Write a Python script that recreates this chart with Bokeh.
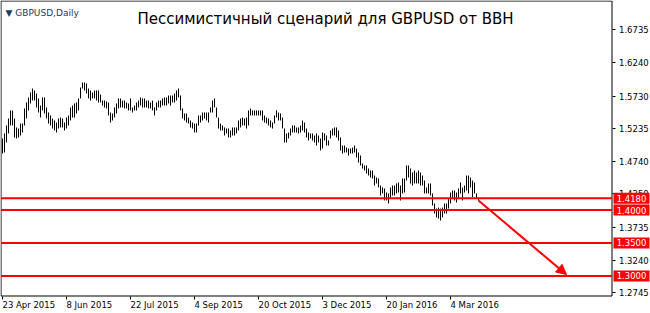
from bokeh.plotting import figure
from bokeh.models import Range1d, FixedTicker, Label, Arrow, NormalHead, NumeralTickFormatter, ColumnDataSource
from bokeh.core.properties import value
from bokeh.embed import file_html
from bokeh.resources import INLINE

# ---------------- data ----------------
bar_high = [
    1.5086, 1.5162, 1.5283, 1.5389, 1.5511, 1.5511, 1.5389, 1.5253, 1.5237, 1.5313,
    1.5313, 1.5541, 1.5632, 1.5708, 1.5784, 1.5844, 1.5814, 1.5768, 1.5693, 1.5586,
    1.5708, 1.5708, 1.5556, 1.5480, 1.5435, 1.5389, 1.5359, 1.5328, 1.5389, 1.5404,
    1.5389, 1.5328, 1.5404, 1.5435, 1.5556, 1.5586, 1.5617, 1.5632, 1.5693, 1.5859,
    1.5935, 1.5935, 1.5920, 1.5844, 1.5814, 1.5784, 1.5814, 1.5814, 1.5814, 1.5753,
    1.5662, 1.5662, 1.5647, 1.5632, 1.5480, 1.5465, 1.5556, 1.5617, 1.5693, 1.5693,
    1.5662, 1.5662, 1.5632, 1.5617, 1.5693, 1.5556, 1.5586, 1.5632, 1.5662, 1.5708,
    1.5693, 1.5693, 1.5662, 1.5662, 1.5632, 1.5662, 1.5556, 1.5632, 1.5662, 1.5662,
    1.5693, 1.5708, 1.5708, 1.5738, 1.5738, 1.5738, 1.5768, 1.5814, 1.5844, 1.5738,
    1.5541, 1.5465, 1.5465, 1.5404, 1.5359, 1.5328, 1.5313, 1.5313, 1.5435, 1.5435,
    1.5480, 1.5480, 1.5480, 1.5480, 1.5556, 1.5662, 1.5693, 1.5556, 1.5404, 1.5313,
    1.5283, 1.5253, 1.5237, 1.5237, 1.5207, 1.5253, 1.5253, 1.5253, 1.5359, 1.5389,
    1.5404, 1.5389, 1.5404, 1.5511, 1.5541, 1.5511, 1.5511, 1.5511, 1.5511, 1.5511,
    1.5511, 1.5435, 1.5404, 1.5389, 1.5359, 1.5328, 1.5435, 1.5511, 1.5480, 1.5465,
    1.5404, 1.5237, 1.5162, 1.5177, 1.5237, 1.5283, 1.5283, 1.5253, 1.5253, 1.5283,
    1.5359, 1.5328, 1.5237, 1.5177, 1.5162, 1.5162, 1.5131, 1.5162, 1.5131, 1.5086,
    1.5177, 1.5162, 1.5131, 1.5055, 1.5207, 1.5237, 1.5253, 1.5253, 1.5207, 1.5101,
    1.4979, 1.4979, 1.4949, 1.4934, 1.4934, 1.4949, 1.4979, 1.4934, 1.4873, 1.4828,
    1.4706, 1.4676, 1.4676, 1.4630, 1.4600, 1.4600, 1.4524, 1.4494, 1.4479, 1.4372,
    1.4342, 1.4327, 1.4266, 1.4251, 1.4342, 1.4372, 1.4372, 1.4403, 1.4418, 1.4372,
    1.4479, 1.4479, 1.4676, 1.4676, 1.4630, 1.4570, 1.4600, 1.4570, 1.4600, 1.4570,
    1.4524, 1.4448, 1.4342, 1.4403, 1.4403, 1.4251, 1.4099, 1.4023, 1.4038, 1.4023,
    1.4038, 1.4099, 1.4099, 1.4175, 1.4266, 1.4296, 1.4296, 1.4266, 1.4327, 1.4418,
    1.4342, 1.4372, 1.4524, 1.4524, 1.4494, 1.4448, 1.4418, 1.4251, 1.4190,
]
bar_low = [
    1.4858, 1.4873, 1.5025, 1.5162, 1.5283, 1.5283, 1.5101, 1.5086, 1.5101, 1.5131,
    1.5177, 1.5283, 1.5389, 1.5511, 1.5617, 1.5662, 1.5662, 1.5556, 1.5480, 1.5404,
    1.5511, 1.5465, 1.5389, 1.5313, 1.5283, 1.5237, 1.5207, 1.5177, 1.5237, 1.5253,
    1.5253, 1.5207, 1.5237, 1.5283, 1.5359, 1.5404, 1.5404, 1.5465, 1.5511, 1.5693,
    1.5844, 1.5814, 1.5768, 1.5693, 1.5662, 1.5693, 1.5693, 1.5662, 1.5632, 1.5632,
    1.5586, 1.5556, 1.5541, 1.5435, 1.5328, 1.5359, 1.5404, 1.5465, 1.5541, 1.5556,
    1.5556, 1.5541, 1.5541, 1.5511, 1.5511, 1.5480, 1.5511, 1.5511, 1.5556, 1.5586,
    1.5556, 1.5556, 1.5556, 1.5541, 1.5541, 1.5511, 1.5435, 1.5511, 1.5556, 1.5556,
    1.5586, 1.5586, 1.5586, 1.5617, 1.5586, 1.5632, 1.5632, 1.5662, 1.5708, 1.5511,
    1.5389, 1.5359, 1.5328, 1.5313, 1.5253, 1.5237, 1.5177, 1.5177, 1.5283, 1.5328,
    1.5359, 1.5389, 1.5359, 1.5328, 1.5480, 1.5480, 1.5556, 1.5404, 1.5237, 1.5207,
    1.5207, 1.5131, 1.5162, 1.5101, 1.5101, 1.5131, 1.5131, 1.5162, 1.5207, 1.5253,
    1.5283, 1.5283, 1.5237, 1.5283, 1.5435, 1.5435, 1.5435, 1.5435, 1.5435, 1.5435,
    1.5359, 1.5328, 1.5313, 1.5283, 1.5253, 1.5237, 1.5313, 1.5404, 1.5359, 1.5359,
    1.5237, 1.5025, 1.5025, 1.5086, 1.5131, 1.5177, 1.5177, 1.5177, 1.5162, 1.5177,
    1.5207, 1.5177, 1.5101, 1.5055, 1.5086, 1.5055, 1.5025, 1.4979, 1.5025, 1.4904,
    1.4934, 1.5055, 1.4979, 1.4979, 1.5086, 1.5131, 1.5131, 1.5101, 1.5055, 1.4904,
    1.4858, 1.4873, 1.4873, 1.4828, 1.4858, 1.4858, 1.4873, 1.4797, 1.4721, 1.4676,
    1.4630, 1.4600, 1.4554, 1.4524, 1.4494, 1.4479, 1.4372, 1.4403, 1.4342, 1.4220,
    1.4251, 1.4145, 1.4145, 1.4099, 1.4190, 1.4220, 1.4220, 1.4251, 1.4266, 1.4145,
    1.4251, 1.4266, 1.4448, 1.4494, 1.4403, 1.4372, 1.4403, 1.4403, 1.4403, 1.4372,
    1.4372, 1.4251, 1.4251, 1.4251, 1.4220, 1.4069, 1.3947, 1.3887, 1.3871, 1.3841,
    1.3887, 1.3947, 1.3947, 1.4023, 1.4099, 1.4175, 1.4145, 1.4114, 1.4190, 1.4251,
    1.4145, 1.4266, 1.4296, 1.4251, 1.4342, 1.4190, 1.4251, 1.4175, 1.4145,
]
bar_index = list(range(len(bar_high)))

price_ticks = [1.2745, 1.3240, 1.3735, 1.4250, 1.4740, 1.5235, 1.5730, 1.6240, 1.6735]
date_tick_index = [0, 32, 64, 96, 128, 160, 192, 224]
date_labels = ["23 Apr 2015", "8 Jun 2015", "22 Jul 2015", "4 Sep 2015",
               "20 Oct 2015", "3 Dec 2015", "20 Jan 2016", "4 Mar 2016"]
levels = [1.4180, 1.4000, 1.3500, 1.3000]
level_labels = ["1.4180", "1.4000", "1.3500", "1.3000"]
arrow_from = (238, 1.4145)
arrow_to = (282, 1.3020)
title_text = "Пессимистичный сценарий для GBPUSD от BBH"
symbol_text = "▼ GBPUSD,Daily"

# ---------------- layout (frame = whole canvas) ----------------
W, H = 650, 313
px_per_bar = 2.0
px_per_unit = 659.0
x_start = -1.0
x_end = x_start + W / px_per_bar
y_end = 1.71796
y_start = y_end - H / px_per_unit


def xd(px):
    return x_start + px / px_per_bar


def yd(px):
    return y_end - px / px_per_unit


BORDER_L, BORDER_T, BORDER_R, BORDER_B = xd(0.5), yd(0.5), xd(611.5), yd(295.5)
FONT = "DejaVu Sans"
TICK_FS = "8.5px"

p = figure(width=W, height=H, x_range=Range1d(x_start, x_end), y_range=Range1d(y_start, y_end),
           output_backend="svg", toolbar_location=None, y_axis_location="right",
           min_border=0, min_border_left=0, min_border_right=0,
           min_border_top=0, min_border_bottom=0)
p.background_fill_color = "white"
p.border_fill_color = "white"
p.outline_line_color = None
p.grid.visible = False

ya = p.yaxis[0]
ya.fixed_location = BORDER_R
ya.ticker = FixedTicker(ticks=price_ticks)
ya.formatter = NumeralTickFormatter(format="0.0000")
ya.major_tick_out = 3
ya.major_tick_in = 0
ya.minor_tick_out = 0
ya.minor_tick_in = 0
ya.major_label_standoff = 4
ya.major_label_text_font = FONT
ya.major_label_text_font_size = TICK_FS
ya.major_label_text_color = "black"
ya.axis_line_color = None
ya.major_tick_line_color = "black"

xa = p.xaxis[0]
xa.fixed_location = BORDER_B
xa.ticker = FixedTicker(ticks=date_tick_index)
xa.major_tick_out = 3
xa.major_tick_in = 0
xa.minor_tick_out = 0
xa.minor_tick_in = 0
xa.major_label_text_alpha = 0
xa.major_label_text_font_size = "1px"
xa.axis_line_color = None
xa.major_tick_line_color = "black"

# chart border
p.segment(x0=[BORDER_L, BORDER_L, BORDER_L, BORDER_R], y0=[BORDER_T, BORDER_B, BORDER_T, BORDER_T],
          x1=[BORDER_R, BORDER_R, BORDER_L, BORDER_R], y1=[BORDER_T, BORDER_B, BORDER_B, BORDER_B],
          line_color="black", line_width=1)

# bars
src = ColumnDataSource(dict(x=bar_index, hi=bar_high, lo=bar_low))
p.segment(x0="x", y0="lo", x1="x", y1="hi", source=src, line_color="black", line_width=1)

# levels
p.segment(x0=[BORDER_L] * len(levels), y0=levels, x1=[BORDER_R] * len(levels), y1=levels,
          line_color="#ff0000", line_width=2)

p.add_layout(Arrow(end=NormalHead(size=10, fill_color="#ff0000", line_color="#ff0000"),
                   x_start=arrow_from[0], y_start=arrow_from[1],
                   x_end=arrow_to[0], y_end=arrow_to[1],
                   line_color="#ff0000", line_width=2))

lvl_src = ColumnDataSource(dict(x=[xd(631)] * len(levels), y=levels, t=level_labels))
p.rect(x="x", y="y", width=36, height=11, width_units="screen", height_units="screen",
       source=lvl_src, fill_color="#ff0000", line_color=None, level="overlay")
p.text(x="x", y="y", text="t", source=lvl_src, text_color="white", text_font=value(FONT),
       text_font_size=TICK_FS, text_align="center", text_baseline="middle", level="overlay")

# date labels, left aligned at ticks
date_src = ColumnDataSource(dict(x=date_tick_index, y=[yd(299)] * len(date_tick_index), t=date_labels))
p.text(x="x", y="y", text="t", source=date_src, text_color="black", text_font=value(FONT),
       text_font_size=TICK_FS, text_align="left", text_baseline="top")

# titles
p.add_layout(Label(x=xd(W / 2), y=yd(18), text=title_text, text_color="black", text_font=FONT,
                   text_font_size="15px", text_align="center", text_baseline="alphabetic"))
p.add_layout(Label(x=xd(5), y=yd(12.5), text=symbol_text, text_color="#233a5c", text_font=FONT,
                   text_font_size="9px", text_align="left", text_baseline="alphabetic"))

open("out.html", "w").write(file_html(p, INLINE))
